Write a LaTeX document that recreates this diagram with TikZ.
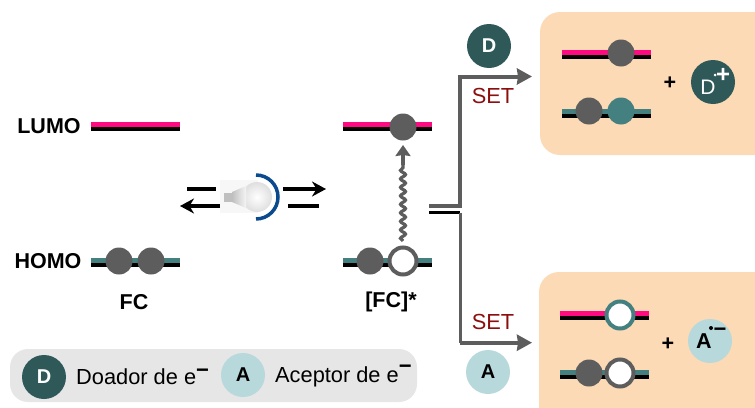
\documentclass[tikz,border=0pt]{standalone}
\usepackage{fontspec}
\setmainfont{Liberation Sans}
\usetikzlibrary{arrows.meta, decorations.pathmorphing}
\definecolor{lumopink}{HTML}{FF0A80}
\definecolor{homoteal}{HTML}{458080}
\definecolor{electron}{HTML}{5D5D5D}
\definecolor{donor}{HTML}{2F5959}
\definecolor{acceptor}{HTML}{B7D9DB}
\definecolor{boxorange}{HTML}{FCDAB5}
\definecolor{legendgray}{HTML}{E6E6E6}
\definecolor{setred}{HTML}{8B0F0F}
\definecolor{arcblue}{HTML}{0B4A8C}
\newcommand{\eminus}{{\fontsize{22}{24}\selectfont\bfseries −}}
\tikzset{
  pinkline/.style={line width=5pt, lumopink},
  tealline/.style={line width=5pt, homoteal},
  blackline/.style={line width=4.5pt, black},
  full/.style={circle, fill=electron, inner sep=0pt, minimum size=27pt},
  hole/.style={circle, draw=electron, fill=white, line width=4pt, inner sep=0pt, minimum size=27pt},
  reagent/.style={circle, inner sep=0pt, minimum size=44pt},
  letter/.style={font=\fontsize{20}{22}\selectfont\bfseries},
  biglabel/.style={font=\fontsize{21.5}{24}\selectfont\bfseries},
  plain/.style={font=\fontsize{21.8}{24}\selectfont},
  minus/.style={font=\fontsize{22}{24}\selectfont\bfseries, inner sep=0pt},
  wire/.style={line width=4pt, electron},
  eq/.style={line width=3.5pt, black}
}
\begin{document}
\begin{tikzpicture}[x=1pt, y=-1pt]
\useasboundingbox (0,0) rectangle (755,407);
% boxes
\fill[boxorange, rounded corners=20pt] (540,12) rectangle (775,155);
\fill[boxorange, rounded corners=20pt] (539,272) rectangle (775,427);
\fill[legendgray, rounded corners=18pt] (10,349) rectangle (417,402);
% FC
\path (49,126) node[biglabel] (LUMO) {LUMO};
\path (48,261) node[biglabel] (HOMO) {HOMO};
\draw[pinkline] (91,124.5) -- (180,124.5);
\draw[blackline] (91,129.2) -- (180,129.2);
\draw[tealline] (91,260.5) -- (180,260.5);
\draw[blackline] (91,265.2) -- (180,265.2);
\path (119,261) node[full] (FCa) {};
\path (151,261) node[full] (FCb) {};
\path (134,302) node[biglabel] (FC) {FC};
% light
\path (187,189) coordinate (La) (216,189) coordinate (Lb);
\path (220,206) coordinate (Lc) (180,206) coordinate (Ld);
\path (283,189) coordinate (Le) (326,189) coordinate (Lf);
\path (288,206) coordinate (Lg) (319,206) coordinate (Lh);
\draw[eq] (La) -- (Lb);
\draw[eq, -{Stealth[length=14pt, width=15pt]}] (Lc) -- (Ld);
\draw[eq, -{Stealth[length=14pt, width=15pt]}] (Le) -- (Lf);
\draw[eq] (Lg) -- (Lh);
\fill[gray!6] (220,180) rectangle (258,213);
\shade[inner color=white, outer color=gray!25] (257,197) circle (15pt);
\shade[left color=gray!50, right color=gray!8] (232,192) -- (246,186) -- (246,208) -- (232,202) -- cycle;
\fill[gray!50] (224,193) rectangle (232,202);
\draw[arcblue, line width=3.5pt] (256,219) arc (-90:90:22pt);
% [FC]*
\draw[pinkline] (343,124.5) -- (432,124.5);
\draw[blackline] (343,129.2) -- (432,129.2);
\draw[tealline] (343,260.5) -- (432,260.5);
\draw[blackline] (343,265.2) -- (432,265.2);
\path (403,127) node[full] (FCc) {};
\path (370,261) node[full] (FCd) {};
\path (403,261) node[hole] (FCe) {};
\path (391,302) node[biglabel] (FCs) {[FC]*};
\path (403,241) coordinate (Wa) (403,165) coordinate (Wb) (403,145) coordinate (Wc);
\draw[electron, line width=3.2pt, decorate, decoration={snake, amplitude=2.5pt, segment length=8.5pt}] (Wa) -- (Wb);
\draw[electron, line width=3.2pt, -{Stealth[length=11pt, width=15pt, inset=1pt]}] (Wb) -- (Wc);
% SET
\path (429,206) coordinate (Ta) (460,206) coordinate (Tb) (460,76.5) coordinate (Tc) (532,76.5) coordinate (Td);
\path (429,212.5) coordinate (Ba) (460,212.5) coordinate (Bb) (460,342.7) coordinate (Bc) (532,342.7) coordinate (Bd);
\draw[eq] (Ba) -- (Bb);
\draw[electron, line width=3pt] (Bb) -- (Bc);
\draw[wire, -{Stealth[length=15pt, width=16pt, inset=1pt]}] (Bc) -- (Bd);
\draw[wire, -{Stealth[length=15pt, width=16pt, inset=1pt]}] (Ta) -- (Tb) -- (Tc) -- (Td);
\path (493,96) node[plain, setred] (SETa) {SET};
\path (493,322) node[plain, setred] (SETb) {SET};
\path (489,46) node[reagent, fill=donor, text=white, letter] (Dtop) {D};
\path (488,372) node[reagent, fill=acceptor, letter] (Abot) {A};
% top products
\draw[pinkline] (562,52.5) -- (651,52.5);
\draw[blackline] (562,57) -- (651,57);
\draw[tealline] (562,111.5) -- (651,111.5);
\draw[blackline] (562,116) -- (651,116);
\path (621,53) node[full] (Pa) {};
\path (589,111) node[full] (Pb) {};
\path (621,111) node[full, fill=homoteal] (Pc) {};
\path (670,83) node[biglabel] (plusa) {+};
\path (713,82) node[reagent, fill=donor] (Dion) {};
\path (708,87) node[text=white, font=\fontsize{21}{24}\selectfont] (Dt) {D};
\path (723,75) node[text=white, font=\fontsize{24}{24}\selectfont\bfseries] (Dp) {+};
\fill[white] (715,75) circle (1.5pt);
% bottom products
\draw[pinkline] (560,313.5) -- (649,313.5);
\draw[blackline] (560,318) -- (649,318);
\draw[tealline] (560,372.5) -- (649,372.5);
\draw[blackline] (560,377) -- (649,377);
\path (620,315) node[hole, draw=homoteal] (Qa) {};
\path (589,373) node[full] (Qb) {};
\path (620,373) node[hole] (Qc) {};
\path (668,344) node[biglabel] (plusb) {+};
\path (710,341) node[reagent, fill=acceptor] (Aion) {};
\path (704,341) node[biglabel] (At) {A};
\path (720,332) node[minus] (Am) {−};
\fill[black] (711,328) circle (2pt);
% legend
\path (44,377) node[reagent, fill=donor, text=white, letter] (Dleg) {D};
\path (243,375) node[reagent, fill=acceptor, letter] (Aleg) {A};
\path (76,384) node[plain, anchor=base west, inner sep=0pt] (Dtxt) {Doador de e\raisebox{6.5pt}{\eminus}};
\path (275,382) node[plain, anchor=base west, inner sep=0pt] (Atxt) {Aceptor de e\raisebox{8.5pt}{\eminus}};
\end{tikzpicture}
\end{document}
